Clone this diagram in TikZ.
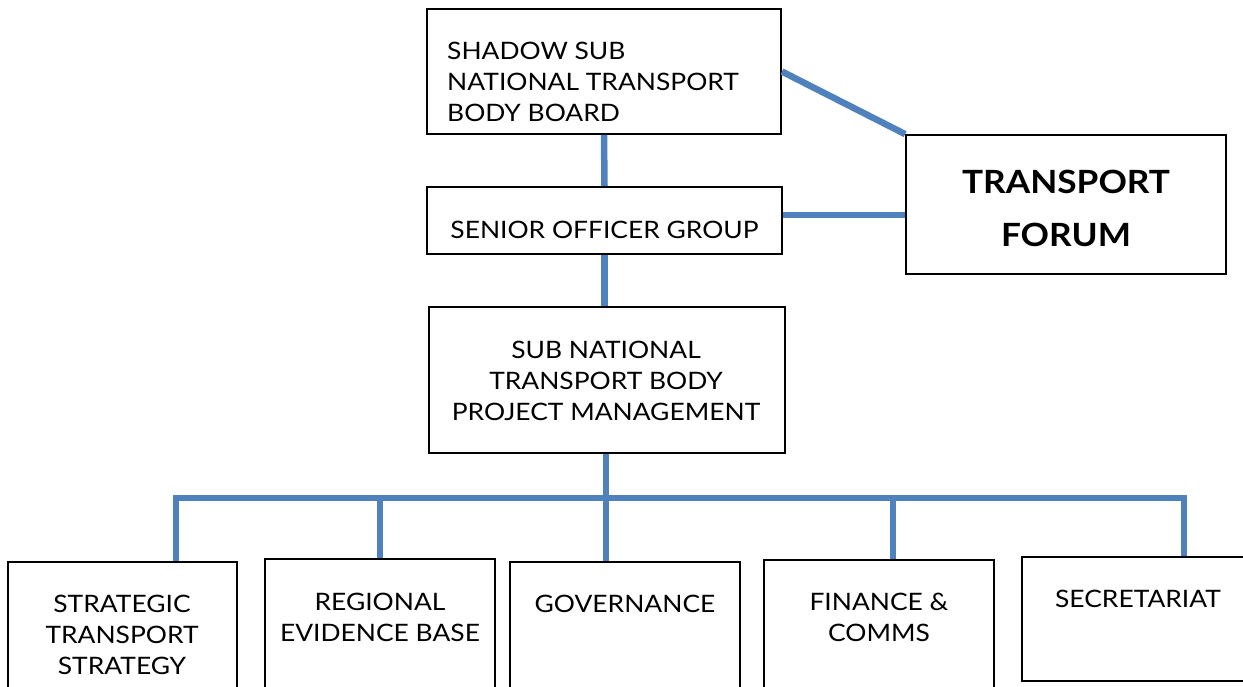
\documentclass[tikz,border=0pt]{standalone}
\usepackage{fontspec}
\setmainfont{Lato}[FakeStretch=1.1]
\definecolor{conn}{HTML}{4F81BD}
\begin{document}
\begin{tikzpicture}[x=1pt,y=-1pt,
  box/.style={draw=black, line width=1.8pt, fill=white, inner sep=0pt},
  txt/.style={font=\fontsize{24}{31}\selectfont, align=center, inner sep=0pt, anchor=base},
  ltxt/.style={font=\fontsize{24}{31}\selectfont, align=left, inner sep=0pt, anchor=base west},
  link/.style={draw=conn, line width=6.5pt}]
\useasboundingbox (0,0) rectangle (1243,686);
\clip (0,0) rectangle (1243,686);
% boxes
\node[box, minimum width=354pt, minimum height=125pt] (board) at (604,71.5) {};
\node[box, minimum width=355pt, minimum height=67pt] (sog) at (604.5,220.5) {};
\node[box, minimum width=320pt, minimum height=139pt] (forum) at (1066,204.5) {};
\node[box, minimum width=356pt, minimum height=146pt] (pm) at (607,380) {};
\node[box, minimum width=229pt, minimum height=140pt, anchor=north] (sts) at (122.5,561) {};
\node[box, minimum width=230pt, minimum height=140pt, anchor=north] (reb) at (380,558) {};
\node[box, minimum width=230pt, minimum height=140pt, anchor=north] (gov) at (625,561) {};
\node[box, minimum width=230pt, minimum height=140pt, anchor=north] (fin) at (879,559) {};
\node[box, minimum width=230pt, minimum height=124pt, anchor=north] (sec) at (1137,556) {};
% connectors
\coordinate (b0) at (606,498);
\coordinate (b1) at (176,498);
\coordinate (b2) at (380,498);
\coordinate (b3) at (606,498);
\coordinate (b4) at (893,498);
\coordinate (b5) at (1184,498);
\draw[link] (board.south) -- (sog.north);
\draw[link] (sog.south) -- (sog.south |- pm.north);
\draw[link] (board.east) -- (forum.north west);
\draw[link] ([yshift=5.5pt]sog.east) -- ([yshift=5.5pt]sog.east -| forum.west);
\draw[link] (pm.south -| b0) -- (b0);
\draw[link] ([xshift=-3.25pt]b1) -- ([xshift=3.25pt]b5);
\draw[link] (b1) -- (b1 |- sts.north);
\draw[link] (b2) -- (b2 |- reb.north);
\draw[link] (b3) -- (b3 |- gov.north);
\draw[link] (b4) -- (b4 |- fin.north);
\draw[link] (b5) -- (b5 |- sec.north);
% texts (anchor = baseline of last line)
\node[ltxt] (tboard) at (447,121) {SHADOW SUB\\NATIONAL TRANSPORT\\BODY BOARD};
\node[txt] (tsog) at (604.5,238) {SENIOR OFFICER GROUP};
\node[txt, font=\fontsize{32}{53}\selectfont\bfseries] (tforum) at (1066,246) {TRANSPORT\\FORUM};
\node[txt] (tpm) at (606,420) {SUB NATIONAL\\TRANSPORT BODY\\PROJECT MANAGEMENT};
\node[txt] (tsts) at (122,674) {STRATEGIC\\TRANSPORT\\STRATEGY};
\node[txt] (treb) at (380,641) {REGIONAL\\EVIDENCE BASE};
\node[txt] (tgov) at (625,612) {GOVERNANCE};
\node[txt] (tfin) at (879,641) {FINANCE \&\\COMMS};
\node[txt] (tsec) at (1138,607) {SECRETARIAT};
\end{tikzpicture}
\end{document}
